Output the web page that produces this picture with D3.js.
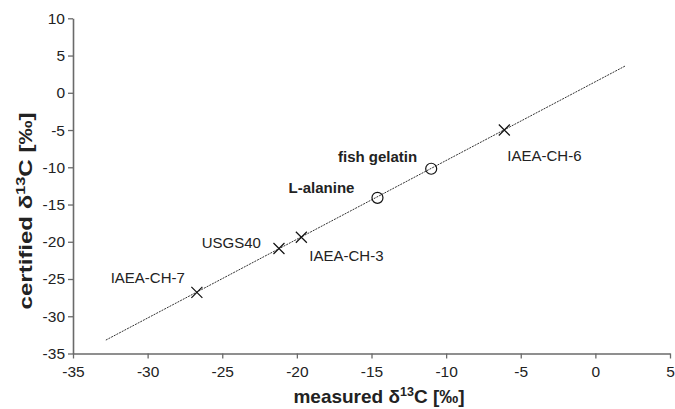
<!DOCTYPE html>
<html>
<head>
<meta charset="utf-8">
<script src="https://cdn.jsdelivr.net/npm/d3@7"></script>
<style>
  html, body { margin: 0; padding: 0; background: #fff; }
  svg { display: block; }
  text { font-family: "Liberation Sans", Arial, sans-serif; }
</style>
</head>
<body>
<svg id="chart" width="675" height="409"></svg>
<script>
// ---- data ----
const sampleNames = ["IAEA-CH-7", "USGS40", "IAEA-CH-3", "L-alanine", "fish gelatin", "IAEA-CH-6"];
const measuredValues = [-26.7, -21.2, -19.7, -14.6, -11.0, -6.1];
const certifiedValues = [-26.8, -20.9, -19.4, -14.1, -10.2, -5.0];
const markerTypes = ["cross", "cross", "cross", "circle", "circle", "cross"];
const fitLineX = [-32.8, 2.0];
const fitLineY = [-33.2, 3.6];
const xTickValues = [-35, -30, -25, -20, -15, -10, -5, 0, 5];
const yTickValues = [-35, -30, -25, -20, -15, -10, -5, 0, 5, 10];

// ---- layout / style ----
const labelStyle = {
  "IAEA-CH-7":   { dx: -12, dy: -9,  anchor: "end",   bold: false },
  "USGS40":      { dx: -18, dy: 0,   anchor: "end",   bold: false },
  "IAEA-CH-3":   { dx: 8,   dy: 24,  anchor: "start", bold: false },
  "L-alanine":   { dx: -23, dy: -4.5, anchor: "end",  bold: true },
  "fish gelatin":{ dx: -14, dy: -7,  anchor: "end",   bold: true },
  "IAEA-CH-6":   { dx: 3,   dy: 31,  anchor: "start", bold: false }
};

const svg = d3.select("#chart");
const x = d3.scaleLinear().domain([-35, 5]).range([73, 670]);
const y = d3.scaleLinear().domain([-35, 10]).range([353.5, 18.3]);

const axisColor = "#6a6a6a";

// x axis
const gx = svg.append("g")
  .attr("transform", `translate(0,${y(-35)})`)
  .call(d3.axisBottom(x).tickValues(xTickValues).tickSize(5).tickSizeOuter(0).tickPadding(7).tickFormat(d3.format("d")));
// y axis
const gy = svg.append("g")
  .attr("transform", `translate(${x(-35)},0)`)
  .call(d3.axisLeft(y).tickValues(yTickValues).tickSize(5).tickSizeOuter(0).tickPadding(3).tickFormat(d3.format("d")));

[gx, gy].forEach(g => {
  g.select(".domain").attr("stroke", axisColor).attr("stroke-width", 1.6);
  g.selectAll(".tick line").attr("stroke", axisColor).attr("stroke-width", 1.3);
  g.selectAll(".tick text")
    .attr("fill", "#222")
    .style("font-family", "'Liberation Sans', Arial, sans-serif")
    .style("font-size", "15.5px")
    .text(d => d < 0 ? "-" + Math.abs(d) : String(d));
});

// fit line
const linePts = fitLineX.map((v, i) => [v, fitLineY[i]]);
svg.append("path")
  .attr("d", d3.line().x(d => x(d[0])).y(d => y(d[1]))(linePts))
  .attr("fill", "none")
  .attr("stroke", "#333")
  .attr("stroke-width", 1)
  .attr("stroke-dasharray", "2,1");

// markers
const pts = sampleNames.map((n, i) => ({ name: n, mx: measuredValues[i], cy: certifiedValues[i], type: markerTypes[i] }));
const mg = svg.append("g");
pts.forEach(p => {
  const px = x(p.mx), py = y(p.cy);
  if (p.type === "cross") {
    const s = 5.5;
    mg.append("path")
      .attr("d", `M${px - s},${py - s}L${px + s},${py + s}M${px - s},${py + s}L${px + s},${py - s}`)
      .attr("stroke", "#111").attr("stroke-width", 1.2).attr("fill", "none");
  } else {
    mg.append("circle").attr("cx", px).attr("cy", py).attr("r", 5.5)
      .attr("stroke", "#111").attr("stroke-width", 1.2).attr("fill", "none");
  }
  const ls = labelStyle[p.name];
  mg.append("text")
    .attr("x", px + ls.dx).attr("y", py + ls.dy)
    .attr("text-anchor", ls.anchor)
    .attr("fill", "#222")
    .style("font-size", "15px")
    .style("font-weight", ls.bold ? "bold" : "normal")
    .text(p.name);
});

// axis titles
const xt = svg.append("text")
  .attr("x", 379).attr("y", 403)
  .attr("text-anchor", "middle")
  .attr("fill", "#222")
  .style("font-size", "19px").style("font-weight", "bold");
xt.append("tspan").text("measured δ");
xt.append("tspan").attr("dy", -7.5).style("font-size", "12.5px").text("13");
xt.append("tspan").attr("dy", 7.5).text("C [‰]");

const yt = svg.append("text")
  .attr("transform", "translate(32,211) rotate(-90) scale(1.3,1)")
  .attr("text-anchor", "middle")
  .attr("fill", "#222")
  .style("font-size", "18.5px").style("font-weight", "bold");
yt.append("tspan").text("certified δ");
yt.append("tspan").attr("dy", -7.5).style("font-size", "12.5px").text("13");
yt.append("tspan").attr("dy", 7.5).text("C [‰]");
</script>
</body>
</html>
